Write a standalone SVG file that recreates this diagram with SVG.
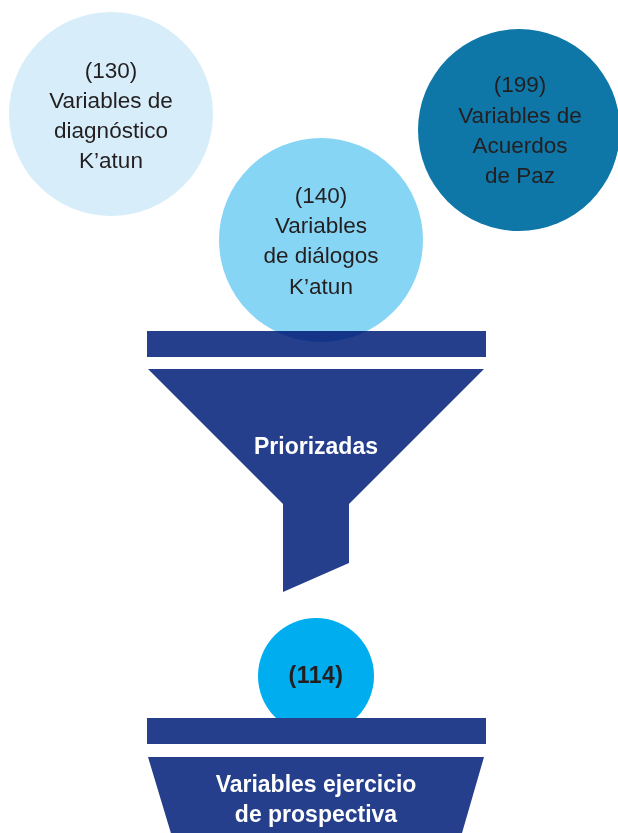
<svg xmlns="http://www.w3.org/2000/svg" width="618" height="833" viewBox="0 0 618 833">
<style>
.t{font-family:"Liberation Sans",Arial,sans-serif;font-size:22.5px;fill:#231F20;text-anchor:middle}
.b{font-family:"Liberation Sans",Arial,sans-serif;font-weight:bold;font-size:23px;fill:#FFFFFF;text-anchor:middle}
.dk{fill:#253F8D}
</style>
<rect width="618" height="833" fill="#FFFFFF"/>
<g id="circle-130">
<circle cx="111" cy="114" r="102" fill="#D7EEFA"/>
<text class="t" x="111" y="78">(130)</text>
<text class="t" x="111" y="108">Variables de</text>
<text class="t" x="111" y="138">diagnóstico</text>
<text class="t" x="111" y="168">K’atun</text>
</g>
<g id="circle-199">
<circle cx="519" cy="130" r="101" fill="#0E77A8"/>
<text class="t" x="520" y="92">(199)</text>
<text class="t" x="520" y="123">Variables de</text>
<text class="t" x="520" y="153">Acuerdos</text>
<text class="t" x="520" y="183">de Paz</text>
</g>
<g id="circle-140">
<circle cx="321" cy="240" r="102" fill="#87D5F5"/>
<text class="t" x="321" y="203">(140)</text>
<text class="t" x="321" y="233">Variables</text>
<text class="t" x="321" y="263">de diálogos</text>
<text class="t" x="321" y="294">K’atun</text>
</g>
<g id="funnel">
<rect class="dk" x="147" y="331" width="339" height="26" style="mix-blend-mode:multiply"/>
<polygon class="dk" points="148,369 484,369 349,504 349,563 283,592 283,504"/>
<text class="b" x="316" y="454">Priorizadas</text>
</g>
<g id="circle-114">
<circle cx="316" cy="676" r="58" fill="#00AEEF"/>
<text class="b" x="316" y="683" style="fill:#231F20;font-size:23px;letter-spacing:0.5px">(114)</text>
</g>
<g id="result">
<rect class="dk" x="147" y="718" width="339" height="26"/>
<polygon class="dk" points="148,757 484,757 460,840 173,840"/>
<text class="b" x="316" y="792">Variables ejercicio</text>
<text class="b" x="316" y="822">de prospectiva</text>
</g>
<g id="connectors"></g>
</svg>
